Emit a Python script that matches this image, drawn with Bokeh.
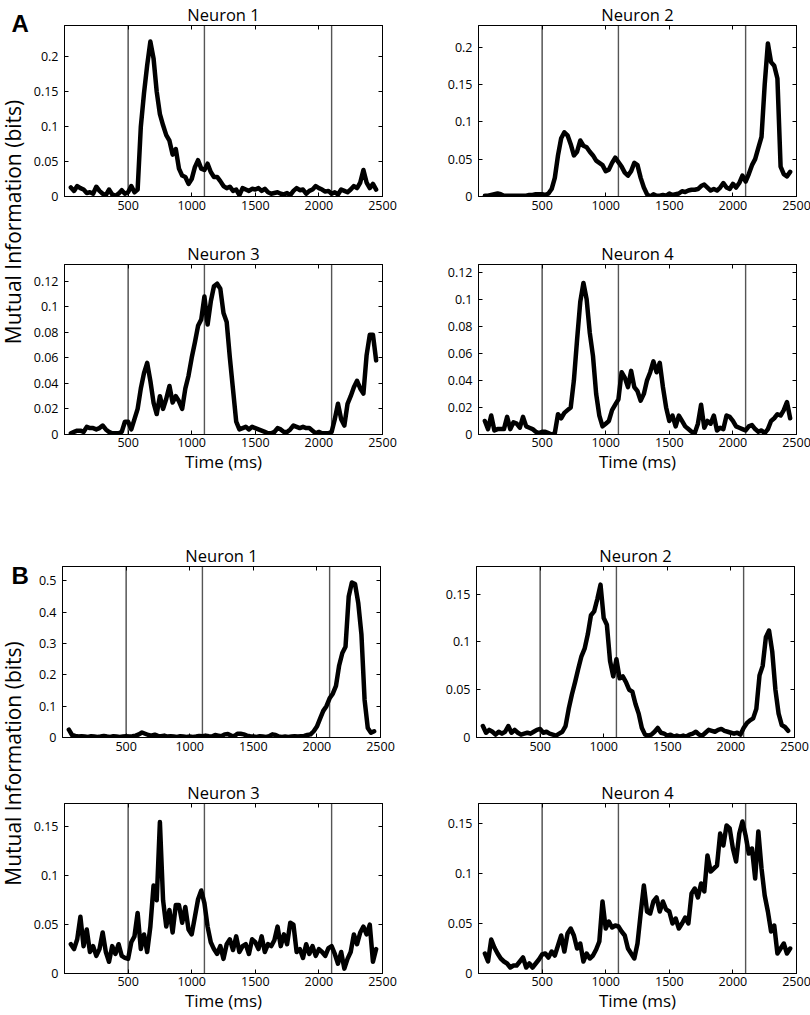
import math
from bokeh.plotting import figure
from bokeh.models import (Range1d, FixedTicker, CustomJSTickFormatter, LinearAxis,
                          Span, Label, Title)
from bokeh.layouts import row, column
from bokeh.embed import file_html
from bokeh.resources import INLINE

FONT = "Open Sans"

# ---------------- data ----------------
time_ms = list(range(50, 2451, 25))
event_times = [500, 1100, 2100]
x_ticks = [500, 1000, 1500, 2000, 2500]

a1 = [0.013, 0.008, 0.015, 0.012, 0.010, 0.005, 0.006, 0.004, 0.014, 0.008,
      0.004, 0.002, 0.010, 0.003, 0.001, 0.004, 0.009, 0.004, 0.006, 0.015,
      0.006, 0.010, 0.100, 0.148, 0.188, 0.222, 0.198, 0.150, 0.118, 0.102,
      0.088, 0.080, 0.060, 0.068, 0.040, 0.030, 0.028, 0.018, 0.025, 0.042,
      0.052, 0.040, 0.038, 0.047, 0.035, 0.028, 0.028, 0.022, 0.015, 0.012,
      0.014, 0.008, 0.010, 0.002, 0.012, 0.010, 0.008, 0.011, 0.010, 0.012,
      0.008, 0.011, 0.006, 0.004, 0.005, 0.006, 0.004, 0.003, 0.005, 0.002,
      0.008, 0.012, 0.009, 0.010, 0.004, 0.008, 0.010, 0.015, 0.012, 0.010,
      0.007, 0.008, 0.004, 0.006, 0.003, 0.010, 0.008, 0.006, 0.010, 0.015,
      0.012, 0.020, 0.038, 0.020, 0.012, 0.018, 0.010]

a2 = [0.001, 0.001, 0.002, 0.003, 0.004, 0.003, 0.001, 0.001, 0.001, 0.001,
      0.001, 0.001, 0.001, 0.001, 0.002, 0.002, 0.003, 0.003, 0.003, 0.002,
      0.004, 0.010, 0.025, 0.055, 0.078, 0.086, 0.082, 0.070, 0.055, 0.060,
      0.075, 0.068, 0.066, 0.060, 0.055, 0.048, 0.045, 0.042, 0.034, 0.036,
      0.045, 0.052, 0.046, 0.040, 0.032, 0.028, 0.034, 0.045, 0.042, 0.025,
      0.012, 0.003, 0.000, 0.003, 0.001, 0.001, 0.002, 0.001, 0.004, 0.002,
      0.003, 0.004, 0.007, 0.006, 0.008, 0.009, 0.009, 0.010, 0.014, 0.016,
      0.012, 0.008, 0.010, 0.008, 0.012, 0.018, 0.012, 0.010, 0.017, 0.012,
      0.018, 0.028, 0.020, 0.030, 0.042, 0.050, 0.065, 0.080, 0.150, 0.205,
      0.180, 0.175, 0.158, 0.040, 0.030, 0.027, 0.033]

a3 = [0.001, 0.002, 0.003, 0.003, 0.002, 0.006, 0.005, 0.005, 0.004, 0.005,
      0.007, 0.004, 0.002, 0.001, 0.001, 0.001, 0.002, 0.010, 0.010, 0.004,
      0.012, 0.020, 0.036, 0.048, 0.056, 0.042, 0.025, 0.016, 0.030, 0.020,
      0.028, 0.038, 0.025, 0.030, 0.026, 0.020, 0.036, 0.046, 0.060, 0.072,
      0.085, 0.090, 0.108, 0.086, 0.104, 0.116, 0.118, 0.114, 0.095, 0.088,
      0.060, 0.035, 0.010, 0.004, 0.005, 0.006, 0.004, 0.006, 0.005, 0.004,
      0.003, 0.002, 0.001, 0.001, 0.002, 0.005, 0.004, 0.002, 0.002, 0.004,
      0.007, 0.006, 0.005, 0.006, 0.005, 0.005, 0.003, 0.001, 0.002, 0.001,
      0.001, 0.001, 0.002, 0.012, 0.024, 0.012, 0.007, 0.024, 0.030, 0.037,
      0.042, 0.036, 0.032, 0.062, 0.078, 0.078, 0.058]

a4 = [0.010, 0.004, 0.014, 0.003, 0.004, 0.004, 0.004, 0.013, 0.004, 0.009,
      0.008, 0.005, 0.013, 0.006, 0.005, 0.004, 0.002, 0.001, 0.002, 0.002,
      0.001, 0.000, 0.001, 0.015, 0.012, 0.016, 0.018, 0.020, 0.040, 0.070,
      0.098, 0.112, 0.100, 0.075, 0.058, 0.030, 0.014, 0.006, 0.008, 0.010,
      0.018, 0.022, 0.026, 0.046, 0.042, 0.035, 0.047, 0.035, 0.032, 0.025,
      0.030, 0.040, 0.046, 0.054, 0.046, 0.053, 0.035, 0.020, 0.010, 0.014,
      0.006, 0.014, 0.010, 0.006, 0.004, 0.002, 0.001, 0.008, 0.022, 0.005,
      0.010, 0.008, 0.014, 0.003, 0.005, 0.004, 0.014, 0.013, 0.010, 0.006,
      0.005, 0.004, 0.003, 0.006, 0.007, 0.004, 0.002, 0.003, 0.001, 0.004,
      0.010, 0.012, 0.015, 0.014, 0.018, 0.024, 0.012]

b1 = [0.025, 0.008, 0.005, 0.003, 0.004, 0.003, 0.002, 0.004, 0.003, 0.002,
      0.003, 0.005, 0.003, 0.002, 0.004, 0.003, 0.002, 0.003, 0.004, 0.003,
      0.004, 0.006, 0.010, 0.016, 0.012, 0.008, 0.006, 0.009, 0.005, 0.004,
      0.006, 0.003, 0.004, 0.003, 0.002, 0.004, 0.003, 0.002, 0.003, 0.002,
      0.003, 0.005, 0.004, 0.006, 0.004, 0.003, 0.008, 0.006, 0.004, 0.010,
      0.011, 0.006, 0.004, 0.012, 0.012, 0.010, 0.006, 0.004, 0.003, 0.002,
      0.004, 0.003, 0.002, 0.004, 0.010, 0.008, 0.003, 0.002, 0.003, 0.002,
      0.003, 0.004, 0.003, 0.004, 0.005, 0.008, 0.010, 0.020, 0.035, 0.060,
      0.085, 0.100, 0.125, 0.140, 0.165, 0.230, 0.270, 0.290, 0.450, 0.495,
      0.490, 0.430, 0.330, 0.120, 0.030, 0.015, 0.020]

b2 = [0.012, 0.005, 0.008, 0.006, 0.003, 0.006, 0.004, 0.006, 0.012, 0.005,
      0.008, 0.005, 0.003, 0.004, 0.005, 0.004, 0.006, 0.008, 0.009, 0.005,
      0.006, 0.004, 0.003, 0.002, 0.004, 0.006, 0.012, 0.030, 0.045, 0.058,
      0.072, 0.085, 0.093, 0.108, 0.128, 0.132, 0.145, 0.160, 0.125, 0.118,
      0.080, 0.064, 0.082, 0.062, 0.064, 0.058, 0.050, 0.048, 0.035, 0.025,
      0.010, 0.003, 0.002, 0.003, 0.006, 0.010, 0.005, 0.004, 0.002, 0.003,
      0.001, 0.002, 0.001, 0.002, 0.001, 0.003, 0.004, 0.006, 0.003, 0.002,
      0.005, 0.008, 0.007, 0.006, 0.008, 0.009, 0.007, 0.006, 0.005, 0.004,
      0.005, 0.003, 0.010, 0.015, 0.018, 0.020, 0.030, 0.065, 0.075, 0.105,
      0.112, 0.090, 0.050, 0.025, 0.013, 0.011, 0.007]

b3 = [0.030, 0.025, 0.035, 0.058, 0.028, 0.045, 0.022, 0.028, 0.018, 0.025,
      0.042, 0.022, 0.012, 0.028, 0.020, 0.030, 0.018, 0.016, 0.015, 0.032,
      0.038, 0.062, 0.025, 0.040, 0.022, 0.048, 0.090, 0.075, 0.155, 0.075,
      0.048, 0.065, 0.042, 0.070, 0.070, 0.052, 0.068, 0.045, 0.040, 0.058,
      0.076, 0.085, 0.072, 0.048, 0.032, 0.025, 0.020, 0.028, 0.015, 0.030,
      0.035, 0.024, 0.038, 0.022, 0.028, 0.030, 0.020, 0.035, 0.032, 0.025,
      0.038, 0.022, 0.030, 0.028, 0.034, 0.048, 0.028, 0.040, 0.030, 0.052,
      0.050, 0.022, 0.025, 0.016, 0.030, 0.020, 0.028, 0.018, 0.025, 0.022,
      0.018, 0.026, 0.028, 0.020, 0.010, 0.022, 0.005, 0.015, 0.022, 0.040,
      0.030, 0.042, 0.048, 0.040, 0.050, 0.012, 0.025]

b4 = [0.020, 0.012, 0.034, 0.026, 0.020, 0.015, 0.012, 0.010, 0.006, 0.008,
      0.008, 0.012, 0.016, 0.006, 0.010, 0.006, 0.010, 0.014, 0.019, 0.020,
      0.016, 0.022, 0.018, 0.028, 0.038, 0.022, 0.040, 0.045, 0.038, 0.025,
      0.030, 0.012, 0.020, 0.015, 0.018, 0.024, 0.032, 0.072, 0.045, 0.052,
      0.046, 0.048, 0.047, 0.042, 0.038, 0.025, 0.020, 0.015, 0.030, 0.060,
      0.088, 0.062, 0.060, 0.072, 0.076, 0.062, 0.072, 0.064, 0.062, 0.050,
      0.055, 0.045, 0.050, 0.056, 0.050, 0.080, 0.085, 0.076, 0.090, 0.082,
      0.118, 0.102, 0.105, 0.108, 0.140, 0.128, 0.148, 0.145, 0.125, 0.112,
      0.140, 0.152, 0.138, 0.120, 0.125, 0.095, 0.142, 0.105, 0.078, 0.062,
      0.042, 0.048, 0.020, 0.025, 0.030, 0.020, 0.025]

yticks_a12 = [0, 0.05, 0.1, 0.15, 0.2]
yticks_a34 = [0, 0.02, 0.04, 0.06, 0.08, 0.1, 0.12]
yticks_b1 = [0, 0.1, 0.2, 0.3, 0.4, 0.5]
yticks_b234 = [0, 0.05, 0.1, 0.15]

titles = ["Neuron 1", "Neuron 2", "Neuron 3", "Neuron 4"]
y_label = "Mutual Information (bits)"
x_label = "Time (ms)"

# ---------------- layout helpers ----------------
FW = 318


def style_axis(ax, ticks, labels=True):
    ax.ticker = FixedTicker(ticks=ticks)
    ax.major_tick_in = 4
    ax.major_tick_out = 0
    ax.minor_tick_line_color = None
    ax.major_tick_line_color = "black"
    ax.axis_line_color = "black"
    if labels:
        ax.major_label_text_font = FONT
        ax.major_label_text_font_size = "12.5px"
        ax.major_label_text_color = "black"
    else:
        ax.major_label_text_font_size = "0px"
        ax.major_label_standoff = 0
        ax.formatter = CustomJSTickFormatter(code="return '';")


def panel(title, values, ymax, yticks, left_col, fh, top_b, bottom_b, show_xlabel):
    p = figure(frame_width=FW, frame_height=fh,
               x_range=Range1d(0, 2500), y_range=Range1d(0, ymax),
               output_backend="svg", toolbar_location=None, title=None,
               min_border_left=32 if left_col else 54,
               min_border_right=42 if left_col else 16,
               min_border_top=top_b, min_border_bottom=bottom_b,
               background_fill_color="white", border_fill_color="white")
    p.title = Title(text=title, align="center", text_font=FONT,
                    text_font_size="16.5px", text_font_style="normal",
                    text_color="black", standoff=0, offset=0)
    p.xgrid.visible = False
    p.ygrid.visible = False
    p.outline_line_color = "black"
    p.outline_line_width = 1

    style_axis(p.xaxis[0], x_ticks)
    p.xaxis[0].major_label_standoff = 4 if not show_xlabel else 3
    style_axis(p.yaxis[0], yticks)
    p.yaxis[0].major_label_standoff = 6
    p.yaxis[0].formatter = CustomJSTickFormatter(
        code="return String(Math.round(tick*1000)/1000);")
    if show_xlabel:
        p.xaxis[0].axis_label = x_label
        p.xaxis[0].axis_label_text_font = FONT
        p.xaxis[0].axis_label_text_font_size = "17px"
        p.xaxis[0].axis_label_text_font_style = "normal"
        p.xaxis[0].axis_label_text_color = "black"
        p.xaxis[0].axis_label_standoff = 0

    top_ax = LinearAxis()
    style_axis(top_ax, x_ticks, labels=False)
    p.add_layout(top_ax, "above")
    right_ax = LinearAxis()
    style_axis(right_ax, yticks, labels=False)
    p.add_layout(right_ax, "right")

    for i, ev in enumerate(event_times):
        p.add_layout(Span(location=ev, dimension="height",
                          line_color="black" if i == 0 else "#555555",
                          line_width=1 if i == 0 else 1.4, level="underlay"))

    p.line(time_ms, values, line_color="black", line_width=4.5,
           line_join="round", line_cap="round")
    return p


def side(letter, H, label_y, letter_base):
    s = figure(frame_width=30, frame_height=H, x_range=Range1d(0, 30),
               y_range=Range1d(0, H), min_border=0,
               x_axis_location=None, y_axis_location=None,
               output_backend="svg", toolbar_location=None,
               outline_line_color=None, title=None)
    s.xgrid.visible = False
    s.ygrid.visible = False
    s.add_layout(Label(x=11, y=H - letter_base, text=letter,
                       text_font="Liberation Sans", text_font_style="bold",
                       text_font_size="24px", text_color="black",
                       text_align="left", text_baseline="alphabetic"))
    s.add_layout(Label(x=12.5, y=label_y, text=y_label, angle=math.pi / 2,
                       text_font=FONT, text_font_size="21px",
                       text_color="black", text_align="center",
                       text_baseline="middle"))
    return s


A1 = panel(titles[0], a1, 0.245, yticks_a12, True, 171, 23, 30, False)
A2 = panel(titles[1], a2, 0.229, yticks_a12, False, 171, 23, 30, False)
A3 = panel(titles[2], a3, 0.133, yticks_a34, True, 170, 38, 49, True)
A4 = panel(titles[3], a4, 0.1256, yticks_a34, False, 170, 38, 49, True)

B1 = panel(titles[0], b1, 0.546, yticks_b1, True, 171, 83, 30, False)
B2 = panel(titles[1], b2, 0.179, yticks_b234, False, 171, 83, 30, False)
B3 = panel(titles[2], b3, 0.174, yticks_b234, True, 170, 36, 43, True)
B4 = panel(titles[3], b4, 0.170, yticks_b234, False, 170, 36, 43, True)

sideA = side("A", 481, 259.5, 23)
sideB = side("B", 533, 253, 92)

groupA = row(sideA, column(row(A1, A2), row(A3, A4)))
groupB = row(sideB, column(row(B1, B2), row(B3, B4)))
layout = column(groupA, groupB)

open("out.html", "w").write(file_html(layout, INLINE))
